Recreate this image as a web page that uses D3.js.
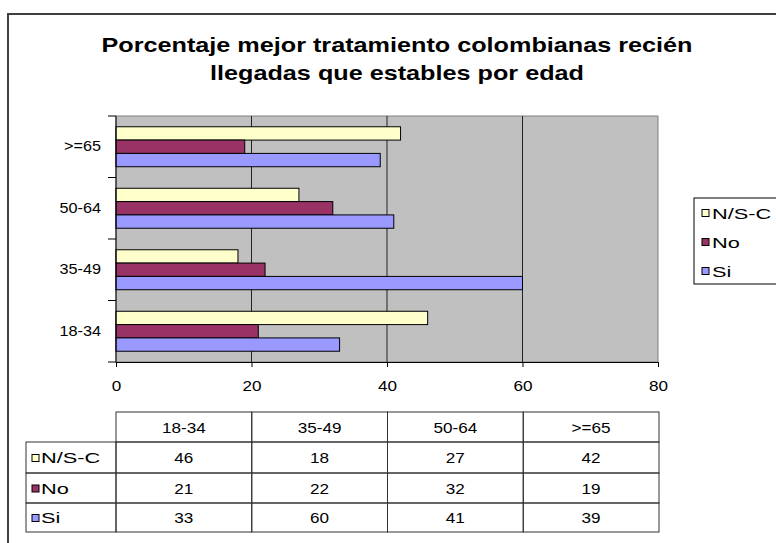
<!DOCTYPE html>
<html><head><meta charset="utf-8">
<script src="https://cdn.jsdelivr.net/npm/d3@7"></script>
<style>body{margin:0;background:#fff}svg{display:block;font-family:Arial,"Liberation Sans",sans-serif}</style>
</head><body><svg id="c" width="776" height="543"></svg>
<script>
const categories = ["18-34","35-49","50-64",">=65"];
const seriesNames = ["N/S-C","No","Si"];
const nsc = [46,18,27,42];
const no  = [21,22,32,19];
const si  = [33,60,41,39];
const xTicks = [0,20,40,60,80];
const titleLines = ["Porcentaje mejor tratamiento colombianas recién","llegadas que estables por edad"];
const colors = ["#FFFFCC","#993366","#9999FF"];

const values = [nsc, no, si];
const svg = d3.select("#c");
const SX = 1.18, SXL = 1.5;
function stretch(sel, k){ sel.each(function(){ const l=this.getComputedTextLength(); d3.select(this).attr("textLength", l*(k||SX)).attr("lengthAdjust","spacingAndGlyphs"); }); }

// outer frame
svg.append("rect").attr("x",8).attr("y",14).attr("width",900).attr("height",700)
  .attr("fill","#fff").attr("stroke","#404040").attr("stroke-width",2);

// title
svg.selectAll("text.title").data(titleLines).enter().append("text")
  .attr("class","title").attr("x",397).attr("y",(d,i)=>52+i*28)
  .attr("text-anchor","middle").attr("font-weight","bold").attr("font-size",21)
  .attr("fill","#000").text(d=>d).call(stretch,1.2);

const L=116, R=658, T=116, B=362;
const x = d3.scaleLinear().domain([0,80]).range([L,R]);
const y = d3.scaleBand().domain(categories.slice().reverse()).range([T,B]).paddingInner(0.35).paddingOuter(0.175);
const ys = d3.scaleBand().domain(seriesNames).range([0,y.bandwidth()]);
const step = y.step();

// plot area
svg.append("rect").attr("x",L).attr("y",T).attr("width",R-L).attr("height",B-T)
  .attr("fill","#C0C0C0").attr("stroke","#808080").attr("stroke-width",1);
// grid
svg.selectAll("line.grid").data(xTicks.slice(1,-1)).enter().append("line")
  .attr("x1",d=>x(d)).attr("x2",d=>x(d)).attr("y1",T).attr("y2",B)
  .attr("stroke","#222").attr("stroke-width",1);

// bars
const bars = [];
seriesNames.forEach((s,si_)=>categories.forEach((c,ci)=>bars.push({s,c,v:values[si_][ci],col:colors[si_]})));
svg.selectAll("rect.bar").data(bars).enter().append("rect").attr("class","bar")
  .attr("x",x(0)).attr("y",d=>y(d.c)+ys(d.s)).attr("width",d=>x(d.v)-x(0)).attr("height",ys.bandwidth())
  .attr("fill",d=>d.col).attr("stroke","#000").attr("stroke-width",1);

// axes
const xAxis = d3.axisBottom(x).tickValues(xTicks).tickSize(5).tickPadding(14).tickSizeOuter(0);
const gx = svg.append("g").attr("transform",`translate(0,${B})`).call(xAxis);
gx.select(".domain").attr("stroke","#000");
gx.selectAll(".tick line").attr("stroke","#000");
gx.selectAll("text").attr("font-size",14.5).attr("font-family","Arial, 'Liberation Sans', sans-serif").attr("fill","#000").call(stretch);

const yAxis = d3.axisLeft(y).tickSize(0).tickPadding(15);
const gy = svg.append("g").attr("transform",`translate(${L},0)`).call(yAxis);
gy.select(".domain").remove();
gy.selectAll("text").attr("font-size",14.5).attr("font-family","Arial, 'Liberation Sans', sans-serif").attr("fill","#000").call(stretch,1.12);
// category boundary ticks
const bounds = d3.range(categories.length+1).map(i=>T+i*step);
svg.selectAll("line.ctick").data(bounds).enter().append("line")
  .attr("x1",L-8).attr("x2",L).attr("y1",d=>d).attr("y2",d=>d).attr("stroke","#000");
svg.append("line").attr("x1",L).attr("x2",L).attr("y1",T).attr("y2",B).attr("stroke","#000");

// legend
const lg = svg.append("g");
lg.append("rect").attr("x",694).attr("y",198).attr("width",120).attr("height",86)
  .attr("fill","#fff").attr("stroke","#000");
seriesNames.forEach((s,i)=>{
  const cy = 213 + i*29;
  lg.append("rect").attr("x",702).attr("y",cy-3.5).attr("width",7).attr("height",7).attr("fill",colors[i]).attr("stroke","#000");
  lg.append("text").attr("x",712).attr("y",cy+5.5).attr("font-size",14.5).text(s).call(stretch,SXL);
});

// data table
const tx = d3.scaleBand().domain(categories).range([L,R+1]);
const rowTop = 412, hdrH = 30, rowYs = [442,473,503,532];
const tb = svg.append("g");
categories.forEach(c=>{
  tb.append("rect").attr("x",tx(c)).attr("y",rowTop).attr("width",tx.bandwidth()).attr("height",hdrH)
    .attr("fill","none").attr("stroke","#333");
  tb.append("text").attr("x",tx(c)+tx.bandwidth()/2).attr("y",rowTop+hdrH/2+5.5).attr("text-anchor","middle")
    .attr("font-size",14.5).text(c).call(stretch);
});
seriesNames.forEach((s,i)=>{
  const y0=rowYs[i], h=rowYs[i+1]-rowYs[i];
  tb.append("rect").attr("x",26).attr("y",y0).attr("width",L-26).attr("height",h).attr("fill","none").attr("stroke","#333");
  tb.append("rect").attr("x",32).attr("y",y0+h/2-3).attr("width",7).attr("height",7).attr("fill",colors[i]).attr("stroke","#000");
  tb.append("text").attr("x",41).attr("y",y0+h/2+5.5).attr("font-size",14.5).text(s).call(stretch,SXL);
  categories.forEach((c,ci)=>{
    tb.append("rect").attr("x",tx(c)).attr("y",y0).attr("width",tx.bandwidth()).attr("height",h).attr("fill","none").attr("stroke","#333");
    tb.append("text").attr("x",tx(c)+tx.bandwidth()/2).attr("y",y0+h/2+5.5).attr("text-anchor","middle")
      .attr("font-size",14.5).text(values[i][ci]).call(stretch);
  });
});
</script></body></html>
